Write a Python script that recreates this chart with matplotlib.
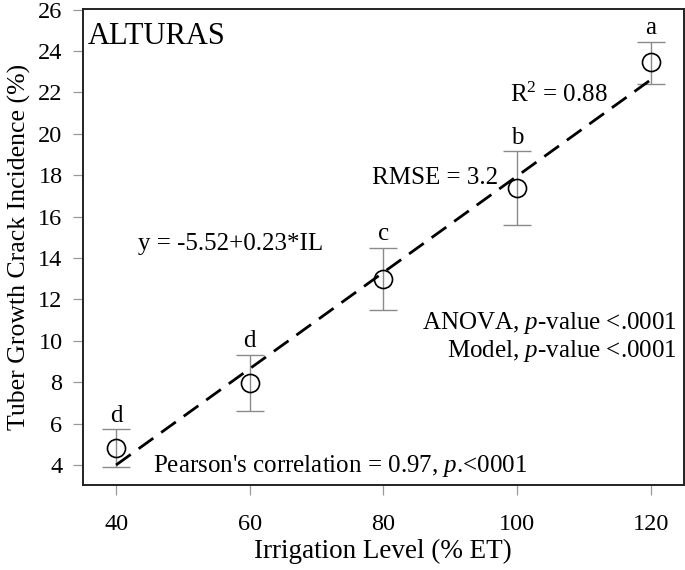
import matplotlib
matplotlib.use("Agg")
import matplotlib.pyplot as plt
import numpy as np

plt.rcParams['font.family'] = ['Liberation Serif', 'DejaVu Serif']
plt.rcParams['mathtext.fontset'] = 'custom'
plt.rcParams['mathtext.rm'] = 'Liberation Serif'
plt.rcParams['mathtext.it'] = 'Liberation Serif:italic'

# Data
irrigation = [40, 60, 80, 100, 120]
incidence = [4.8, 7.95, 13.0, 17.4, 23.45]
err_low = [3.9, 6.62, 11.48, 15.6, 22.38]
err_high = [5.72, 9.3, 14.5, 19.15, 24.45]
letters = ['d', 'd', 'c', 'b', 'a']
fit_intercept = -5.3
fit_slope = 0.2325
x_ticks = [40, 60, 80, 100, 120]
y_ticks = [4, 6, 8, 10, 12, 14, 16, 18, 20, 22, 24, 26]

FS = 18

fig = plt.figure(figsize=(6.85, 5.7), dpi=100)
ax = fig.add_axes([0.1207, 0.149, 0.8778, 0.835])

x = np.array(irrigation)
y = np.array(incidence)
lo = y - np.array(err_low)
hi = np.array(err_high) - y

ax.errorbar(x, y, yerr=[lo, hi], fmt='none', ecolor='#8a8a8a', elinewidth=1.0,
            capsize=10, capthick=1.0, zorder=2)
ax.plot(x, y, 'o', ms=13, mfc='none', mec='black', mew=1.2, zorder=3)

xl = np.array([x.min(), x.max()])
ax.plot(xl, fit_intercept + fit_slope * xl, color='black', lw=2.0,
        dashes=(6.5, 3.5), zorder=4)

for xi, h, l in zip(irrigation, err_high, letters):
    ax.annotate(l, (xi, h), xytext=(0, 2), textcoords='offset points',
                ha='center', va='bottom', fontsize=FS)

ax.set_xlim(35, 125)
ax.set_ylim(3.03, 26.02)
ax.set_xticks(x_ticks)
ax.set_yticks(y_ticks)

for s in ax.spines.values():
    s.set_linewidth(1.4)
    s.set_color('#222222')

ax.tick_params(axis='both', which='major', length=7.5, width=0.9,
               color='#9a9a9a', labelsize=17.5)
ax.tick_params(axis='x', pad=13)
ax.tick_params(axis='y', pad=7)

ax.set_xlabel('Irrigation Level (% ET)', fontsize=19.5, labelpad=3)
ax.set_ylabel('Tuber Growth Crack Incidence (%)', fontsize=18.5, labelpad=5)

ax.text(0.009, 0.972, 'ALTURAS', transform=ax.transAxes, fontsize=22,
        ha='left', va='top')
ax.text(43.3, 14.68, 'y = -5.52+0.23*IL', fontsize=FS, ha='left', va='center')
ax.text(99.0, 21.9, r'R$^2$ = 0.88', fontsize=FS, ha='left', va='center')
ax.text(97.2, 17.88, 'RMSE = 3.2', fontsize=FS, ha='right', va='center')
ax.text(123.9, 10.87, r'ANOVA, $p$-value <.0001', fontsize=FS, ha='right', va='center')
ax.text(123.9, 9.5, r'Model, $p$-value <.0001', fontsize=FS, ha='right', va='center')
ax.text(45.5, 3.95, r"Pearson's correlation = 0.97, $p$.<0001", fontsize=FS,
        ha='left', va='center')

fig.savefig('out.png', dpi=100)
